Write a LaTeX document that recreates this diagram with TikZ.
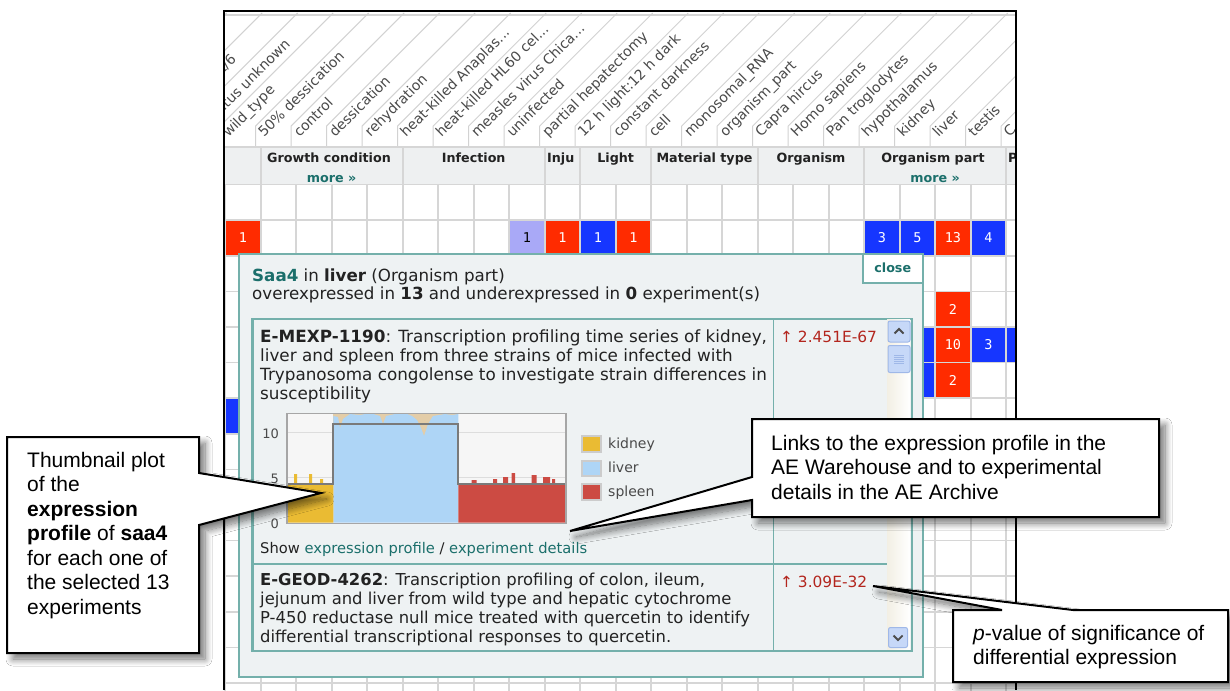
\documentclass[tikz,border=0pt]{standalone}
\usepackage{fontspec}
\setmainfont{Liberation Sans}
\newfontfamily\vf{DejaVu Sans}
\newfontfamily\vm{DejaVu Sans Mono}
\usetikzlibrary{shadows.blur,calc}
\newcommand\tdots{...}
\definecolor{gridgray}{HTML}{D6D6D6}
\definecolor{diaggray}{HTML}{D2D2D2}
\definecolor{headbg}{HTML}{EEF0F1}
\definecolor{cellred}{HTML}{FF2B00}
\definecolor{cellblue}{HTML}{1636FF}
\definecolor{lav}{HTML}{A9A9F7}
\definecolor{popbg}{HTML}{EEF2F3}
\definecolor{popline}{HTML}{74B0AB}
\definecolor{tealtxt}{HTML}{1B6F6B}
\definecolor{pred}{HTML}{B3261E}
\definecolor{labelgray}{HTML}{4A4A4A}
\definecolor{kid}{HTML}{EABB33}
\definecolor{liv}{HTML}{AED5F6}
\definecolor{tanc}{HTML}{E3CDA8}
\definecolor{spl}{HTML}{CC4B43}
\definecolor{meanline}{HTML}{7A7A7A}
\definecolor{plotbg}{HTML}{F6F6F6}
\definecolor{plotgrid}{HTML}{DDDDDD}
\definecolor{scrollblue}{HTML}{C6D8F8}
\definecolor{scrolledge}{HTML}{9FB8E8}
\definecolor{trackc}{HTML}{F2EFE4}
\definecolor{txt}{HTML}{222222}
\tikzset{
  gridln/.style={draw=gridgray, line width=1.6},
  diagline/.style={draw=diaggray, line width=1},
  cellnum/.style={font=\vm\fontsize{13.5}{14}\selectfont, inner sep=0},
  diaglabel/.style={font=\vf\fontsize{14}{14}\selectfont, text=labelgray, rotate=45, anchor=base west, inner sep=0},
  grouphead/.style={font=\vf\bfseries\fontsize{12.7}{13}\selectfont, text=txt, anchor=base, inner sep=0},
  morelink/.style={font=\vf\bfseries\fontsize{12.7}{13}\selectfont, text=tealtxt, anchor=base, inner sep=0},
  uitext/.style={font=\vf\fontsize{16.8}{19}\selectfont, text=txt, anchor=base west, inner sep=0, align=left},
  boxline/.style={draw=popline, line width=1.5},
  calloutbox/.style={draw=black, line width=2, fill=white, line join=miter,
    blur shadow={shadow xshift=6pt, shadow yshift=-6pt, shadow blur radius=7pt, shadow blur steps=12, shadow opacity=55}},
  callouttext/.style={font=\fontsize{21}{24.5}\selectfont, anchor=north west, inner sep=0, align=left},
  scrollbtn/.style={draw=scrolledge, fill=scrollblue, line width=1, rounded corners=2},
}
\begin{document}
\begin{tikzpicture}[x=1pt,y=-1pt]
\useasboundingbox (0,0) rectangle (1230,690);
\fill[white] (0,0) rectangle (1230,690);
% ---------------- table (clipped to the frame) ----------------
\begin{scope}
\clip (224,11) rectangle (1016,690);
\draw[gridgray, line width=1.2] (224,15) -- (1016,15);
\foreach \k in {-5,...,21} {
  \pgfmathsetmacro\tx{255.7+35.5*\k}
  \draw[diagline] (\tx,147) -- (\tx,126) -- ++(113,-113);
}
\node[diaglabel, anchor=base east] (lab-3) at (237,60) {C57BL/6};
\node[diaglabel, anchor=base east] (lab-2) at (291,45) {status unknown};
\foreach \k/\lab in {-1/wild\_type,0/50\% dessication,1/control,2/dessication,3/rehydration,4/heat-killed Anaplas\tdots,5/heat-killed HL60 cel\tdots,6/measles virus Chica\tdots,7/uninfected,8/partial hepatectomy,9/12 h light:12 h dark,10/constant darkness,11/cell,12/monosomal\_RNA,13/organism\_part,14/Capra hircus,15/Homo sapiens,16/Pan troglodytes,17/hypothalamus,18/kidney,19/liver,20/testis,21/C} {
  \pgfmathsetmacro\lx{264+35.5*\k}
  \node[diaglabel] (lab\k) at (\lx,138) {\lab};
}
% group header row
\fill[headbg] (224,147) rectangle (1016,184.5);
\draw[gridln] (224,147) -- (1016,147);
\foreach \x in {260.7,402.7,544.7,580.2,651.2,757.7,864.2,1006.2}
  \draw[gridln] (\x,147) -- (\x,184.5);
\node[grouphead] (g1) at (329,162.5) {Growth condition};
\node[morelink] (m1) at (331.7,182) {more »};
\node[grouphead] (g2) at (473.7,162.5) {Infection};
\node[grouphead, anchor=base west] (g3) at (547,162.5) {Inju};
\node[grouphead] (g4) at (615.7,162.5) {Light};
\node[grouphead] (g5) at (704.5,162.5) {Material type};
\node[grouphead] (g6) at (811,162.5) {Organism};
\node[grouphead] (g7) at (933,162.5) {Organism part};
\node[morelink] (m2) at (935.2,182) {more »};
\node[grouphead, anchor=base west] (g8) at (1008,162.5) {P};
% grid
\foreach \k in {-1,...,22}
  \draw[gridln] ({260.7+35.5*\k},184.5) -- ++(0,520);
\foreach \rr in {0,...,14}
  \draw[gridln] (224,{184.5+35.6*\rr}) -- (1016,{184.5+35.6*\rr});
% coloured cells
\foreach \k/\rr/\cc/\cn/\tcol in {-1/1/cellred/1/white, 7/1/lav/1/black, 8/1/cellred/1/white, 9/1/cellblue/1/white, 10/1/cellred/1/white, 17/1/cellblue/3/white, 18/1/cellblue/5/white, 19/1/cellred/13/white, 20/1/cellblue/4/white, 19/3/cellred/2/white, 18/4/cellblue//white, 19/4/cellred/10/white, 20/4/cellblue/3/white, 21/4/cellblue//white, 18/5/cellblue//white, 19/5/cellred/2/white, -1/6/cellblue//white} {
  \pgfmathsetmacro\cx{260.7+35.5*\k}
  \pgfmathsetmacro\cy{184.5+35.6*\rr}
  \fill[\cc] (\cx+0.8,\cy+0.8) rectangle (\cx+34.7,\cy+34.8);
  \node[cellnum, text=\tcol] (cell\k-\rr) at (\cx+17.75,\cy+17.8) {\cn};
}
\end{scope}
% ---------------- popup ----------------
\node[boxline, fill=popbg, minimum width=684, minimum height=423, anchor=north west, inner sep=0] (popup) at (238,253) {};
\node[boxline, fill=white, minimum width=60, minimum height=29, anchor=north west, inner sep=0,
  font=\vf\bfseries\fontsize{12.7}{13}\selectfont, text=tealtxt] (close) at (862,253) {close};
\node[uitext, font=\vf\fontsize{16.7}{18}\selectfont] (title) at (252,281)
  {\textcolor{tealtxt}{\bfseries Saa4} in \textbf{liver} (Organism part)};
\node[uitext, font=\vf\fontsize{16.7}{18}\selectfont] (subtitle) at (252,299)
  {overexpressed in \textbf{13} and underexpressed in \textbf{0} experiment(s)};
\node[boxline, minimum width=658.7, minimum height=331.7, anchor=north west, inner sep=0] (list) at (252,318.3) {};
% scrollbar
\shade[left color=trackc, right color=white] (887,319) rectangle (910,649);
\node[scrollbtn, minimum width=22, minimum height=21, anchor=north west, inner sep=0] (sup) at (887.5,320.5) {};
\draw[line width=1.8, draw=black!70] ($(sup.center)+(-4.5,2)$) -- ($(sup.center)+(0,-2.5)$) -- ($(sup.center)+(4.5,2)$);
\node[scrollbtn, minimum width=22, minimum height=27, anchor=north west, inner sep=0] (sthumb) at (887.5,345) {};
\foreach \d in {-4,-2,0,2,4}
  \draw[scrolledge, line width=0.8] ($(sthumb.center)+(-5,\d)$) -- ($(sthumb.center)+(5,\d)$);
\node[scrollbtn, minimum width=19, minimum height=20, anchor=north west, inner sep=0] (sdown) at (888,627) {};
\draw[line width=1.8, draw=black!70] ($(sdown.center)+(-4.5,-2)$) -- ($(sdown.center)+(0,2.5)$) -- ($(sdown.center)+(4.5,-2)$);
\draw[boxline] (list.north west) rectangle (list.south east);
\draw[boxline] (773.3,318.3) -- (773.3,650);
\draw[boxline] (252,564) -- (887,564);
% experiment 1 (base = last line)
\node[uitext] (exp1) at (260,399)
  {\textbf{E-MEXP-1190}: Transcription profiling time series of kidney,\\
   liver and spleen from three strains of mice infected with\\
   Trypanosoma congolense to investigate strain differences in\\
   susceptibility};
\node[uitext, text=pred, font=\vf\fontsize{15.4}{19}\selectfont] (pv1) at (780,342) {↑ 2.451E-67};
% thumbnail plot
\fill[plotbg] (286,412.7) rectangle (565,522.7);
\draw[plotgrid, line width=1] (286,432.7) -- (565,432.7) (286,477.7) -- (565,477.7);
\fill[tanc] (333.3,413) rectangle (458.3,438);
\fill[liv] (333.3,522.7) -- (333.3,416) -- (338,417) -- (340,428) -- (343,419) -- (350,414) -- (360,415) -- (370,413) -- (380,416) -- (383,424) -- (386,416) -- (395,414) -- (405,413) -- (412,416) -- (417,420) -- (421,428) -- (424,436) -- (428,424) -- (433,416) -- (445,414) -- (452,415) -- (458.3,414) -- (458.3,522.7) -- cycle;
\fill[kid] (286,522.7) -- (286,484) -- (294,484) -- (294,474) -- (297,474) -- (297,484) -- (309,484) -- (309,474) -- (312,474) -- (312,484) -- (320,484) -- (320,479) -- (323,479) -- (323,484) -- (333.3,484) -- (333.3,522.7) -- cycle;
\fill[spl] (458.3,522.7) -- (458.3,484) -- (471.7,484) -- (471.7,480) -- (476.7,480) -- (476.7,484) -- (493,484) -- (493,479) -- (497,479) -- (497,484) -- (503,484) -- (503,477) -- (508,477) -- (508,484) -- (511.7,484) -- (511.7,473) -- (515,473) -- (515,484) -- (531.7,484) -- (531.7,475) -- (536.7,475) -- (536.7,484) -- (543,484) -- (543,477) -- (550,477) -- (550,484) -- (552,484) -- (552,479) -- (555,479) -- (555,484) -- (565,484) -- (565,522.7) -- cycle;
\draw[meanline, line width=2] (286,484) -- (333.3,484) -- (333.3,423.5) -- (458.3,423.5) -- (458.3,484) -- (565,484);
\node[draw=black!35, line width=1.5, minimum width=279, minimum height=110, anchor=north west, inner sep=0] (plot) at (286,412.7) {};
\node[uitext, anchor=base east, text=labelgray, font=\vf\fontsize{13}{13}\selectfont] (y10) at (279,438) {10};
\node[uitext, anchor=base east, text=labelgray, font=\vf\fontsize{13}{13}\selectfont] (y5) at (279,483) {5};
\node[uitext, anchor=base east, text=labelgray, font=\vf\fontsize{13}{13}\selectfont] (y0) at (279,528) {0};
\foreach \cc/\lab/\yy/\i in {kid/kidney/435/1, liv/liver/459.5/2, spl/spleen/483/3} {
  \node[draw=black!20, line width=2, fill=\cc, minimum width=19, minimum height=15.5, anchor=north west, inner sep=0] (leg\i) at (581,\yy) {};
  \node[uitext, text=labelgray, font=\vf\fontsize{14}{15}\selectfont] (legt\i) at (608,\yy+13) {\lab};
}
\node[uitext, font=\vf\fontsize{14.7}{15}\selectfont] (show) at (260,553)
  {Show \textcolor{tealtxt}{expression profile} / \textcolor{tealtxt}{experiment details}};
% experiment 2 (base = last line)
\node[uitext, font=\vf\fontsize{16.4}{19}\selectfont] (exp2) at (260,642)
  {\textbf{E-GEOD-4262}: Transcription profiling of colon, ileum,\\
   jejunum and liver from wild type and hepatic cytochrome\\
   P-450 reductase null mice treated with quercetin to identify\\
   differential transcriptional responses to quercetin.};
\node[uitext, text=pred, font=\vf\fontsize{15.4}{19}\selectfont] (pv2) at (780,587) {↑ 3.09E-32};
% ---------------- page frame ----------------
\draw[line width=2.5] (224,690) -- (224,11) -- (1016,11) -- (1016,690);
% ---------------- callouts ----------------
\coordinate (tipL) at (321,493);
\coordinate (tipM) at (570,531);
\coordinate (tipR) at (873,586);
\draw[calloutbox] (7,437) -- (199,437) -- (199,473) -- (tipL) -- (199,525) -- (199,653) -- (7,653) -- cycle;
\node[callouttext] (ctL) at (27,452)
  {Thumbnail plot\\of the\\\textbf{expression}\\\textbf{profile} of \textbf{saa4}\\for each one of\\the selected 13\\experiments};
\draw[calloutbox] (752,419) -- (1159,419) -- (1159,517) -- (752,517) -- (752,500) -- (tipM) -- (752,477) -- cycle;
\node[callouttext] (ctM) at (771,435)
  {Links to the expression profile in the\\AE Warehouse and to experimental\\details in the AE Archive};
\draw[calloutbox] (953,610) -- (1002,610) -- (tipR) -- (1073,610) -- (1228,610) -- (1228,682) -- (953,682) -- cycle;
\node[callouttext] (ctR) at (973,625)
  {\textit{p}-value of significance of\\differential expression};
\end{tikzpicture}
\end{document}
